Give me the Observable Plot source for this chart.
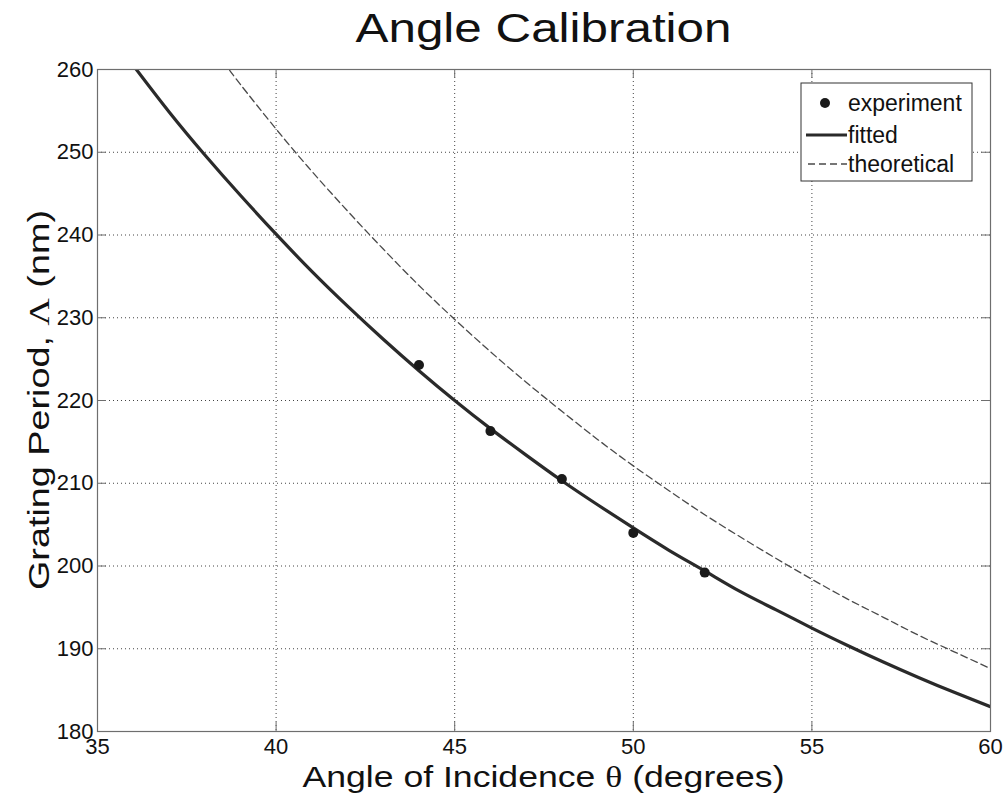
<!DOCTYPE html>
<html>
<head>
<meta charset="utf-8">
<script src="https://cdn.jsdelivr.net/npm/d3@7"></script>
<script src="https://cdn.jsdelivr.net/npm/@observablehq/plot@0.6"></script>
<style>
  html, body { margin: 0; padding: 0; background: #fff; }
  #chart svg { display: block; }
</style>
</head>
<body>
<div id="chart"></div>
<script>
// Measured grating periods (nm) at each angle of incidence (degrees)
const expAngle  = [44, 46, 48, 50, 52];
const expPeriod = [224.3, 216.3, 210.5, 204.0, 199.2];

// Fitted calibration curve
const fitAngle  = [36, 37, 38, 39, 40, 41, 42, 43, 44, 45, 46, 47, 48, 49, 50, 51, 52, 53, 54, 55, 56, 57, 58, 59, 60];
const fitPeriod = [260.5, 254.9, 249.7, 244.8, 240.1, 235.6, 231.4, 227.4, 223.6, 220.0, 216.6, 213.4, 210.3, 207.4, 204.6, 201.9, 199.4, 196.9, 194.7, 192.5, 190.4, 188.4, 186.5, 184.7, 183.0];

// Theoretical curve
const theoAngle  = [38.7, 39, 40, 41, 42, 43, 44, 45, 46, 47, 48, 49, 50, 51, 52, 53, 54, 55, 56, 57, 58, 59, 60];
const theoPeriod = [259.9, 258.2, 252.8, 247.7, 242.9, 238.3, 233.9, 229.8, 225.9, 222.2, 218.7, 215.3, 212.1, 209.1, 206.2, 203.5, 200.9, 198.4, 196.0, 193.8, 191.6, 189.6, 187.6];

// Axis ticks
const xTicks = [35, 40, 45, 50, 55, 60];
const yTicks = [180, 190, 200, 210, 220, 230, 240, 250, 260];

const legendItems = ["experiment", "fitted", "theoretical"];

const experiment  = expAngle.map((a, i) => ({angle: a, period: expPeriod[i]}));
const fitted      = fitAngle.map((a, i) => ({angle: a, period: fitPeriod[i]}));
const theoretical = theoAngle.map((a, i) => ({angle: a, period: theoPeriod[i]}));

const W = 1007, H = 803;
const mL = 97, mR = 17, mT = 69, mB = 72;
const innerW = W - mL - mR, innerH = H - mT - mB;
const tickLen = 9;
const font = "'Liberation Sans', Arial, Helvetica, sans-serif";
const symbolFont = "'Liberation Serif', 'DejaVu Serif', serif";

const chart = Plot.plot({
  width: W,
  height: H,
  marginLeft: mL,
  marginRight: mR,
  marginTop: mT,
  marginBottom: mB,
  style: {fontFamily: font, background: "#fff", color: "#111"},
  x: {domain: [35, 60], ticks: xTicks, label: null},
  y: {domain: [180, 260], ticks: yTicks, label: null},
  marks: [
    // dotted grid
    Plot.ruleX(xTicks, {x: d => d, stroke: "#444", strokeWidth: 1, strokeDasharray: "1,3"}),
    Plot.ruleY(yTicks, {y: d => d, stroke: "#444", strokeWidth: 1, strokeDasharray: "1,3"}),
    // curves
    Plot.line(theoretical, {x: "angle", y: "period", curve: "natural", stroke: "#4a4a4a", strokeWidth: 1.3, strokeDasharray: "7,4", clip: "frame"}),
    Plot.line(fitted, {x: "angle", y: "period", curve: "natural", stroke: "#2a2a2a", strokeWidth: 3.2, clip: "frame"}),
    Plot.dot(experiment, {x: "angle", y: "period", r: 5, fill: "#1a1a1a", stroke: "none"}),
    // inward tick marks on all four sides
    Plot.tickX(xTicks, {x: d => d, stroke: "#6e6e6e", insetTop: innerH - tickLen}),
    Plot.tickX(xTicks, {x: d => d, stroke: "#6e6e6e", insetBottom: innerH - tickLen}),
    Plot.tickY(yTicks, {y: d => d, stroke: "#6e6e6e", insetRight: innerW - tickLen}),
    Plot.tickY(yTicks, {y: d => d, stroke: "#6e6e6e", insetLeft: innerW - tickLen}),
    Plot.frame({stroke: "#6e6e6e", strokeWidth: 1.2}),
    // tick labels
    Plot.axisX({ticks: xTicks, tickSize: 0, tickPadding: 7, fontSize: 22, label: null, tickFormat: d => d}),
    Plot.axisY({ticks: yTicks, tickSize: 0, tickPadding: 4, fontSize: 22, label: null, tickFormat: d => d})
  ]
});

document.getElementById("chart").appendChild(chart);

const svg = d3.select(chart);
svg.selectAll("g[aria-label='x-axis tick label'] text, g[aria-label='y-axis tick label'] text")
  .attr("fill", "#111");

// Title
svg.append("text")
  .attr("x", mL + innerW / 2)
  .attr("y", 42)
  .attr("text-anchor", "middle")
  .attr("font-family", font)
  .attr("font-size", 41)
  .attr("fill", "#111")
  .attr("textLength", 376)
  .attr("lengthAdjust", "spacingAndGlyphs")
  .text("Angle Calibration");

// x axis title
const xl = svg.append("text")
  .attr("x", mL + innerW / 2)
  .attr("y", 787)
  .attr("text-anchor", "middle")
  .attr("font-family", font)
  .attr("font-size", 30)
  .attr("fill", "#111")
  .attr("textLength", 482)
  .attr("lengthAdjust", "spacingAndGlyphs");
xl.append("tspan").text("Angle of Incidence ");
xl.append("tspan").attr("font-family", symbolFont).text("θ");
xl.append("tspan").text(" (degrees)");

// y axis title
const yl = svg.append("text")
  .attr("transform", `translate(49,${mT + innerH / 2}) rotate(-90)`)
  .attr("text-anchor", "middle")
  .attr("font-family", font)
  .attr("font-size", 30)
  .attr("fill", "#111")
  .attr("textLength", 380)
  .attr("lengthAdjust", "spacingAndGlyphs");
yl.append("tspan").text("Grating Period, ");
yl.append("tspan").attr("font-family", symbolFont).text("Λ");
yl.append("tspan").text(" (nm)");

// Legend
const lg = svg.append("g").attr("transform", "translate(801,83)");
lg.append("rect")
  .attr("width", 171).attr("height", 98)
  .attr("fill", "#fff").attr("stroke", "#333").attr("stroke-width", 1);
const rowY = [20, 52, 81];
legendItems.forEach((name, i) => {
  const y = rowY[i];
  if (i === 0) {
    lg.append("circle").attr("cx", 24).attr("cy", y).attr("r", 5).attr("fill", "#1a1a1a");
  } else if (i === 1) {
    lg.append("line").attr("x1", 5).attr("x2", 46).attr("y1", y).attr("y2", y)
      .attr("stroke", "#2a2a2a").attr("stroke-width", 3.2);
  } else {
    lg.append("line").attr("x1", 7).attr("x2", 46).attr("y1", y).attr("y2", y)
      .attr("stroke", "#4a4a4a").attr("stroke-width", 1.3).attr("stroke-dasharray", "7,4");
  }
  lg.append("text")
    .attr("x", 47).attr("y", y)
    .attr("dy", "0.35em")
    .attr("text-anchor", "start")
    .attr("font-family", font)
    .attr("font-size", 23)
    .attr("fill", "#111")
    .text(name);
});
</script>
</body>
</html>
